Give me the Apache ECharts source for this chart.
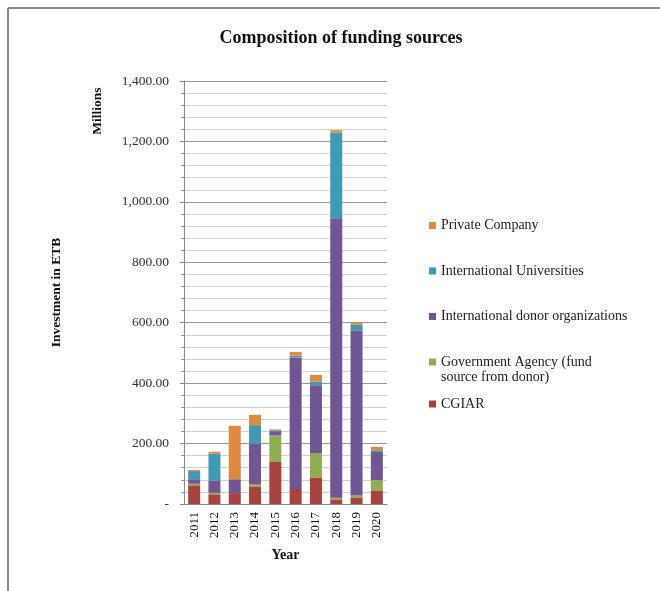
<!DOCTYPE html>
<html>
<head>
<meta charset="utf-8">
<title>Composition of funding sources</title>
<script src="https://cdn.jsdelivr.net/npm/echarts@6/dist/echarts.min.js"></script>
<style>
  html, body { margin: 0; padding: 0; background: #fff; }
  #chart { width: 660px; height: 591px; }
</style>
</head>
<body>
<div id="chart"></div>
<script>
// Funding by year, millions of ETB, stacked by source
const years = ['2011', '2012', '2013', '2014', '2015', '2016', '2017', '2018', '2019', '2020'];
const cgiar = [62, 32, 36, 58, 139, 50, 88, 15, 20, 45];
const governmentAgency = [5, 5, 0, 8, 88, 0, 81, 6, 8, 34];
const donorOrganizations = [15, 41, 46, 134, 14, 435, 224, 925, 546, 93];
const universities = [27, 89, 0, 61, 3, 6, 12, 283, 19, 6];
const privateCompany = [4, 6, 177, 34, 3, 12, 22, 8, 9, 11];

const seriesNames = [
  'CGIAR',
  'Government Agency (fund source from donor)',
  'International donor organizations',
  'International Universities',
  'Private Company'
];
const seriesData = [cgiar, governmentAgency, donorOrganizations, universities, privateCompany];
const colors = ['#A8423F', '#8DAD4E', '#6F5591', '#4099B2', '#DE8A3E'];

const serif = '"Liberation Serif", "DejaVu Serif", serif';

const chart = echarts.init(document.getElementById('chart'), null, { renderer: 'canvas' });

// one legend block per series so each entry sits at its own height;
// the two-line entry gets a blank first line so its swatch lines up with "Government"
const legendTops = {
  'Private Company': 218,
  'International Universities': 263.5,
  'International donor organizations': 309,
  'Government Agency (fund source from donor)': 339.5,
  'CGIAR': 396.5
};
const legends = seriesNames.map(name => {
  const twoLine = name.indexOf('(') > 0;
  return {
    left: 429,
    top: legendTops[name],
    padding: 0,
    orient: 'vertical',
    data: [{ name: name, icon: 'rect' }],
    itemWidth: 7,
    itemHeight: 7,
    itemGap: 5,
    selectedMode: false,
    formatter: twoLine ? () => ' \nGovernment Agency (fund\nsource from donor)' : undefined,
    textStyle: {
      fontFamily: serif,
      fontSize: 14,
      color: '#222',
      lineHeight: 15
    }
  };
});

const option = {
  backgroundColor: '#fff',
  animation: false,
  color: colors,
  title: {
    text: 'Composition of funding sources',
    left: 336,
    top: 24,
    textAlign: 'center',
    textStyle: { fontFamily: serif, fontSize: 18, fontWeight: 'bold', color: '#111' }
  },
  legend: legends,
  grid: { left: 184, top: 81, width: 203, height: 423 },
  xAxis: {
    type: 'category',
    data: years,
    name: 'Year',
    nameLocation: 'middle',
    nameGap: 44,
    nameTextStyle: { fontFamily: serif, fontSize: 14, fontWeight: 'bold', color: '#111' },
    axisLine: { lineStyle: { color: '#888', width: 1 } },
    axisTick: { show: false },
    axisLabel: { rotate: 90, margin: 8, fontFamily: serif, fontSize: 13, color: '#111' }
  },
  yAxis: {
    type: 'value',
    min: 0,
    max: 1400,
    interval: 200,
    name: 'Investment in ETB',
    nameLocation: 'middle',
    nameGap: 120,
    nameTextStyle: { fontFamily: serif, fontSize: 13.5, fontWeight: 'bold', color: '#111' },
    axisLine: { show: true, lineStyle: { color: '#888', width: 1 } },
    axisTick: { show: true, length: 4, lineStyle: { color: '#888' } },
    minorTick: { show: true, splitNumber: 5, length: 3, lineStyle: { color: '#999' } },
    splitLine: { show: true, lineStyle: { color: '#999', width: 1 } },
    minorSplitLine: { show: true, lineStyle: { color: '#d0d0d0', width: 1 } },
    axisLabel: {
      margin: 15,
      fontFamily: serif,
      fontSize: 13.5,
      color: '#333',
      formatter: v => v === 0 ? '-' : v.toLocaleString('en-US', { minimumFractionDigits: 2, maximumFractionDigits: 2 })
    }
  },
  graphic: [
    {
      type: 'text',
      x: 98,
      y: 111,
      rotation: Math.PI / 2,
      style: { text: 'Millions', fontFamily: serif, fontSize: 13.5, fontWeight: 'bold', fill: '#111', align: 'center', verticalAlign: 'middle' }
    },
    // frame lines along the top and left edges
    { type: 'line', shape: { x1: 8, y1: 8, x2: 660, y2: 8 }, style: { stroke: '#888', lineWidth: 2 } },
    { type: 'line', shape: { x1: 8, y1: 8, x2: 8, y2: 591 }, style: { stroke: '#888', lineWidth: 2 } }
  ],
  series: seriesNames.map((name, i) => ({
    name: name,
    type: 'bar',
    stack: 'total',
    barWidth: 12,
    data: seriesData[i],
    itemStyle: { color: colors[i] }
  }))
};

chart.setOption(option);
</script>
</body>
</html>
